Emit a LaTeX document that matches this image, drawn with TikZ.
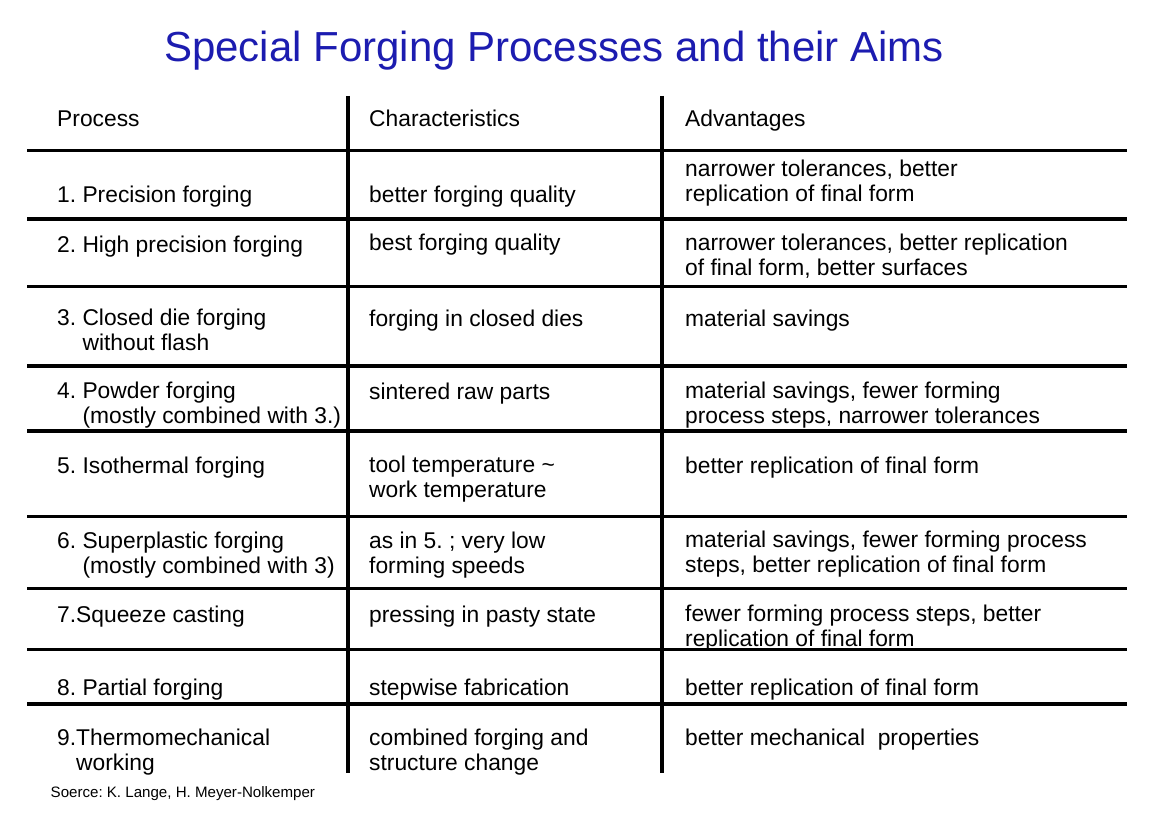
\documentclass[tikz,border=0pt]{standalone}
\usepackage{fontspec}
\setmainfont{Liberation Sans}
\definecolor{titleblue}{RGB}{28,28,176}
\begin{document}
\begin{tikzpicture}[x=1pt,y=-1pt,
  cell/.style={anchor=base west, inner sep=0pt, align=left, font=\fontsize{22.8}{24.3}\selectfont\frenchspacing},
  rule/.style={line width=3.2pt, black},
  titletext/.style={anchor=base, inner sep=0pt, text=titleblue, font=\fontsize{42}{42}\selectfont},
  srctext/.style={anchor=base west, inner sep=0pt, font=\fontsize{15.1}{16}\selectfont\frenchspacing}]
\useasboundingbox (0,0) rectangle (1169,829);
\fill[white] (0,0) rectangle (1169,829);

\node[titletext] (title) at (554,62) {Special Forging Processes and their Aims};

% vertical rules
\coordinate (v1t) at (348,96);  \coordinate (v1b) at (348,773);
\coordinate (v2t) at (662,96);  \coordinate (v2b) at (662,773);
\draw[rule] (v1t) -- (v1b);
\draw[rule] (v2t) -- (v2b);

% horizontal rules
\foreach \y [count=\i] in {150.5,219,286.5,366,431,516.5,588.5,649.5,704}{
  \coordinate (hl\i) at (27,\y);
  \coordinate (hr\i) at (1127,\y);
  \draw[rule] (hl\i) -- (hr\i);
}

% (multi-line cells are placed by the baseline of their last line)
% header
\node[cell] (hA) at (57,127) {Process};
\node[cell] (hB) at (369,127) {Characteristics};
\node[cell] (hC) at (685,127) {Advantages};

% row 1
\node[cell] (r1a) at (57,202) {1. Precision forging};
\node[cell] (r1b) at (369,202) {better forging quality};
\node[cell] (r1c) at (685,201) {narrower tolerances, better\\replication of final form};

% row 2
\node[cell] (r2a) at (57,252) {2. High precision forging};
\node[cell] (r2b) at (369,250) {best forging quality};
\node[cell] (r2c) at (685,275) {narrower tolerances, better replication\\of final form, better surfaces};

% row 3
\node[cell] (r3a) at (57,350) {3. Closed die forging\\\hphantom{3. }without flash};
\node[cell] (r3b) at (369,326) {forging in closed dies};
\node[cell] (r3c) at (685,326) {material savings};

% row 4
\node[cell] (r4a) at (57,423) {4. Powder forging\\\hphantom{4. }(mostly combined with 3.)};
\node[cell] (r4b) at (369,399) {sintered raw parts};
\node[cell] (r4c) at (685,423) {material savings, fewer forming\\process steps, narrower tolerances};

% row 5
\node[cell] (r5a) at (57,473) {5. Isothermal forging};
\node[cell] (r5b) at (369,497) {tool temperature \textasciitilde\\work temperature};
\node[cell] (r5c) at (685,473) {better replication of final form};

% row 6
\node[cell] (r6a) at (57,573) {6. Superplastic forging\\\hphantom{6. }(mostly combined with 3)};
\node[cell] (r6b) at (369,573) {as in 5. ; very low\\forming speeds};
\node[cell] (r6c) at (685,572) {material savings, fewer forming process\\steps, better replication of final form};

% row 7
\node[cell] (r7a) at (57,622) {7.Squeeze casting};
\node[cell] (r7b) at (369,622) {pressing in pasty state};
\node[cell] (r7c) at (685,646) {fewer forming process steps, better\\replication of final form};

% row 8
\node[cell] (r8a) at (57,695) {8. Partial forging};
\node[cell] (r8b) at (369,695) {stepwise fabrication};
\node[cell] (r8c) at (685,695) {better replication of final form};

% row 9
\node[cell] (r9a) at (57,770) {9.Thermomechanical\\\hphantom{9.}working};
\node[cell] (r9b) at (369,770) {combined forging and\\structure change};
\node[cell] (r9c) at (685,745) {better mechanical\ \ properties};

\node[srctext] (src) at (50.5,797) {Soerce: K. Lange, H. Meyer-Nolkemper};
\end{tikzpicture}
\end{document}
